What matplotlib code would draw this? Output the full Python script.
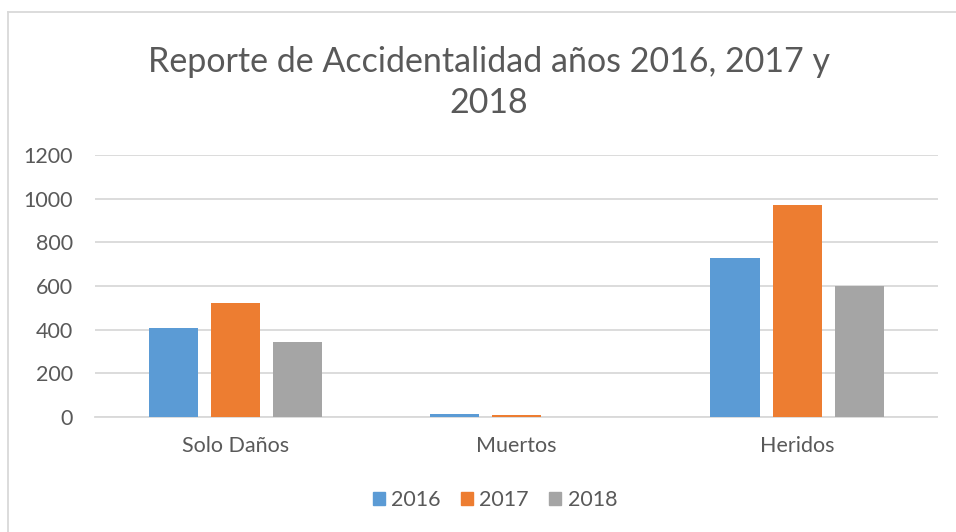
import matplotlib
matplotlib.use("Agg")
import matplotlib.pyplot as plt
import numpy as np
from matplotlib.patches import Rectangle
from matplotlib.lines import Line2D

categories = ["Solo Daños", "Muertos", "Heridos"]
series_names = ["2016", "2017", "2018"]
values_2016 = [406, 12, 727]
values_2017 = [520, 8, 971]
values_2018 = [342, 2, 600]
colors = ["#5B9BD5", "#ED7D31", "#A5A5A5"]
yticks = [0, 200, 400, 600, 800, 1000, 1200]

plt.rcParams['font.family'] = ['Lato', 'DejaVu Sans']
txt = "#595959"

W, H = 956, 532
fig = plt.figure(figsize=(W/100, H/100), dpi=100)
ax = fig.add_axes([95/W, 1-417/H, (937.5-95)/W, (417-155)/H])

x = np.arange(len(categories))
step = 0.221
bw = 0.175
for i, (vals, c) in enumerate(zip([values_2016, values_2017, values_2018], colors)):
    ax.bar(x + (i-1)*step, vals, width=bw, color=c, label=series_names[i], zorder=3)

ax.set_xlim(-0.5, 2.5)
ax.set_ylim(0, 1200)
ax.set_yticks(yticks)
ax.set_xticks(x)
ax.set_xticklabels(categories)
ax.yaxis.grid(True, color="#D9D9D9", linewidth=1.3, zorder=0)
ax.tick_params(axis='both', length=0, colors=txt, labelsize=15.5)
ax.tick_params(axis='y', pad=16)
ax.tick_params(axis='x', pad=14)
for s in ["top", "right", "left"]:
    ax.spines[s].set_visible(False)
ax.spines["bottom"].set_color("#D9D9D9")
ax.spines["bottom"].set_linewidth(1.3)

fig.text(489/W, 1-113/H, "Reporte de Accidentalidad años 2016, 2017 y\n2018",
         ha="center", va="baseline", fontsize=24.5, color=txt, linespacing=1.35)

# legend
handles = [Rectangle((0, 0), 1, 1, color=c) for c in colors]
fig.legend(handles, series_names, loc="center", bbox_to_anchor=(495/W, 1-500/H),
           ncol=3, frameon=False, fontsize=15.5, labelcolor=txt,
           handlelength=0.55, handleheight=0.55, handletextpad=0.3, columnspacing=0.95)

# chart border
fig.add_artist(Line2D([7.5/W, 7.5/W], [0, 1-11.5/H], color="#D9D9D9", lw=1.3, transform=fig.transFigure))
fig.add_artist(Line2D([7.5/W, 1], [1-11.5/H, 1-11.5/H], color="#D9D9D9", lw=1.3, transform=fig.transFigure))

fig.savefig("out.png", dpi=100)
